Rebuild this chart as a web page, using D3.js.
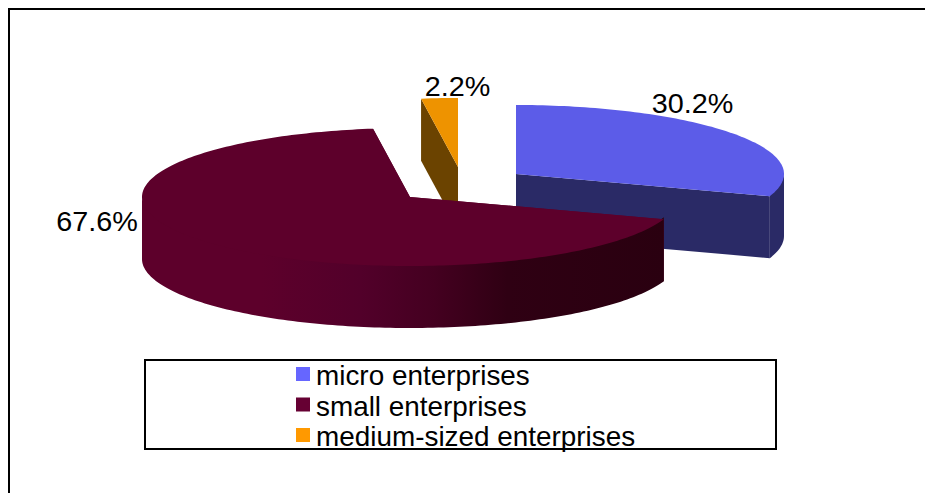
<!DOCTYPE html>
<html>
<head>
<meta charset="utf-8">
<script src="https://cdn.jsdelivr.net/npm/d3@7"></script>
<style>
  html, body { margin: 0; padding: 0; background: #fff; }
  svg { display: block; }
  text { font-family: "Liberation Sans", Arial, sans-serif; fill: #000; }
</style>
</head>
<body>
<svg id="chart" width="925" height="493"></svg>
<script>
// Enterprise share by size class
const categories = ["micro enterprises", "small enterprises", "medium-sized enterprises"];
const shares = [30.2, 67.6, 2.2];
const topColors = ["#5c5ce8", "#5d002b", "#ee9300"];
const sideColors = ["#2a2a66", "url(#smallWall)", "#6b4300"];
const swatchColors = ["#6666ff", "#660033", "#ff9900"];

const svg = d3.select("#chart");
const W = 925, H = 493;

// Pie geometry: a tilted disc with each wedge pulled away from the centre
const rx = 268, ry = 69, depth = 62;
const wedgeCentres = [[516, 174], [410, 197], [458, 167]];
const labelAnchors = [[692.5, 112.5], [97, 230.5], [457.5, 96]];
const paintOrder = [2, 0, 1];

const wedges = d3.pie().sort(null).value(d => d)(shares);
const point = (c, a, dy = 0) => [c[0] + rx * Math.sin(a), c[1] - ry * Math.cos(a) + dy];
const line = d3.line();

// Shading along the front wall of the large wedge
const grad = svg.append("defs").append("linearGradient")
  .attr("id", "smallWall")
  .attr("gradientUnits", "userSpaceOnUse")
  .attr("x1", 142).attr("x2", 664).attr("y1", 0).attr("y2", 0);
[[0, "#5d002b"], [0.23, "#5d002b"], [0.42, "#52002a"], [0.56, "#440020"], [0.7, "#2f0013"], [1, "#2a0010"]]
  .forEach(([o, c]) => grad.append("stop").attr("offset", o).attr("stop-color", c));

// Sample an arc between two angles on the rim of the disc
function rim(c, a0, a1, dy = 0) {
  const n = Math.max(2, Math.ceil(Math.abs(a1 - a0) / 0.02));
  return d3.range(n + 1).map(i => point(c, a0 + (a1 - a0) * i / n, dy));
}

const pieLayer = svg.append("g");
paintOrder.forEach(i => {
  const w = wedges[i], c = wedgeCentres[i];
  const g = pieLayer.append("g");
  const a0 = w.startAngle, a1 = w.endAngle;

  // Cut faces: extruded straight edges from the wedge tip to the rim
  [a0, a1].forEach(a => {
    const p = point(c, a);
    g.append("path")
      .attr("d", line([c, p, [p[0], p[1] + depth], [c[0], c[1] + depth]]) + "Z")
      .attr("fill", i === 1 ? "#5d002b" : sideColors[i]);
  });

  // Outer wall: only the part of the rim facing the viewer, tucked under the top face
  const lo = Math.max(a0, Math.PI / 2), hi = Math.min(a1, 3 * Math.PI / 2);
  if (hi > lo) {
    const upper = rim(c, lo, hi, -2), lower = rim(c, hi, lo, depth);
    g.append("path").attr("d", line(upper.concat(lower)) + "Z").attr("fill", sideColors[i]);
  }

  // Top face
  g.append("path")
    .attr("d", line([c].concat(rim(c, a0, a1))) + "Z")
    .attr("fill", topColors[i]);
});

// Percentage labels, set slightly wide
const pct = d3.format(".1f");
svg.append("g").selectAll("text").data(shares).join("text")
  .attr("transform", (d, i) => `translate(${labelAnchors[i][0]},${labelAnchors[i][1]}) scale(1.047,1)`)
  .attr("text-anchor", "middle")
  .attr("font-size", 27.5)
  .text(d => pct(d) + "%");

// Legend
const legend = svg.append("g");
legend.append("rect")
  .attr("x", 145).attr("y", 360).attr("width", 631).attr("height", 89)
  .attr("fill", "#fff").attr("stroke", "#000").attr("stroke-width", 2);
const rowY = d3.scalePoint().domain(categories).range([374, 435]);
const rows = legend.selectAll("g").data(categories).join("g")
  .attr("transform", d => `translate(296,${rowY(d)})`);
rows.append("rect")
  .attr("x", 0).attr("y", -7).attr("width", 14).attr("height", 14)
  .attr("fill", (d, i) => swatchColors[i]);
rows.append("text")
  .attr("transform", "translate(20,11) scale(1.033,1)")
  .attr("font-size", 27)
  .text(d => d);

// Chart frame: only the top and left edges fall inside the page
svg.append("path")
  .attr("d", line([[9, H], [9, 9], [W, 9]]))
  .attr("fill", "none").attr("stroke", "#000").attr("stroke-width", 2);
</script>
</body>
</html>
